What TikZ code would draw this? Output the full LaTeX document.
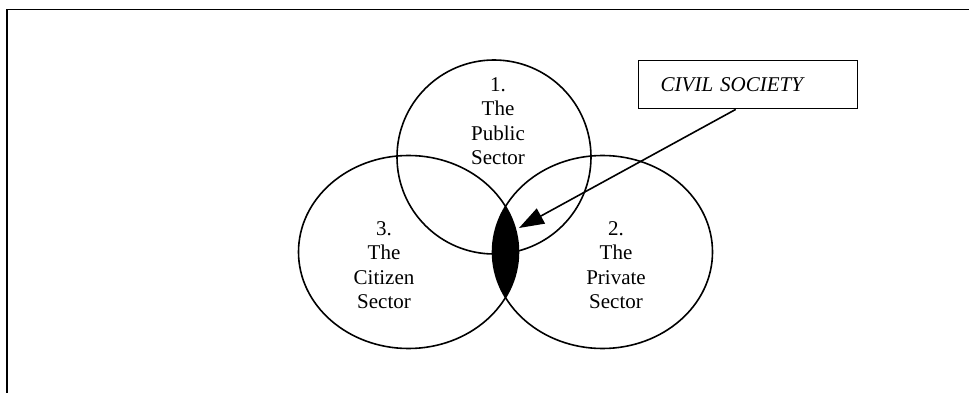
\documentclass[tikz,border=0pt]{standalone}
\usepackage{fontspec}
\setmainfont{Liberation Serif}
\usetikzlibrary{arrows.meta}
\begin{document}
\begin{tikzpicture}[x=1pt, y=-1pt,
  outline/.style={draw=black, line width=1.6pt},
  sectorlabel/.style={align=center, inner sep=0pt,
    font=\fontsize{21}{24.5}\selectfont},
  callout/.style={draw=black, line width=1.4pt, anchor=north west,
    minimum height=48pt, text width=175pt, inner xsep=22pt, inner ysep=0pt,
    align=left, font=\fontsize{21}{24.5}\selectfont\itshape},
  pointer/.style={draw=black, line width=1.6pt,
    -{Triangle[length=25pt, width=17pt]}}]
  \useasboundingbox (0,0) rectangle (969,393);

  % open frame: top and left edges only
  \draw[outline] (969,9.5) -- (6.7,9.5) -- (6.7,393);

  % the shared area of the citizen and private sectors
  \begin{scope}
    \clip (408.5,252) ellipse [x radius=110, y radius=96.5];
    \fill[black] (602.5,252) ellipse [x radius=110, y radius=96.5];
  \end{scope}

  % the three sectors
  \draw[outline] (494,157) ellipse [x radius=97, y radius=97];
  \draw[outline] (408.5,252) ellipse [x radius=110, y radius=96.5];
  \draw[outline] (602.5,252) ellipse [x radius=110, y radius=96.5];

  \node[sectorlabel] (public) at (498,121) {1.\\The\\Public\\Sector};
  \node[sectorlabel] (citizen) at (384,265) {3.\\The\\Citizen\\Sector};
  \node[sectorlabel] (private) at (616,265) {2.\\The\\Private\\Sector};

  % label box and its pointer
  \node[callout] (civil) at (638,60) {CIVIL SOCIETY};
  \coordinate (tip) at (519,228);
  \draw[pointer] ([xshift=-12.5pt]civil.south) -- (tip);
\end{tikzpicture}
\end{document}
